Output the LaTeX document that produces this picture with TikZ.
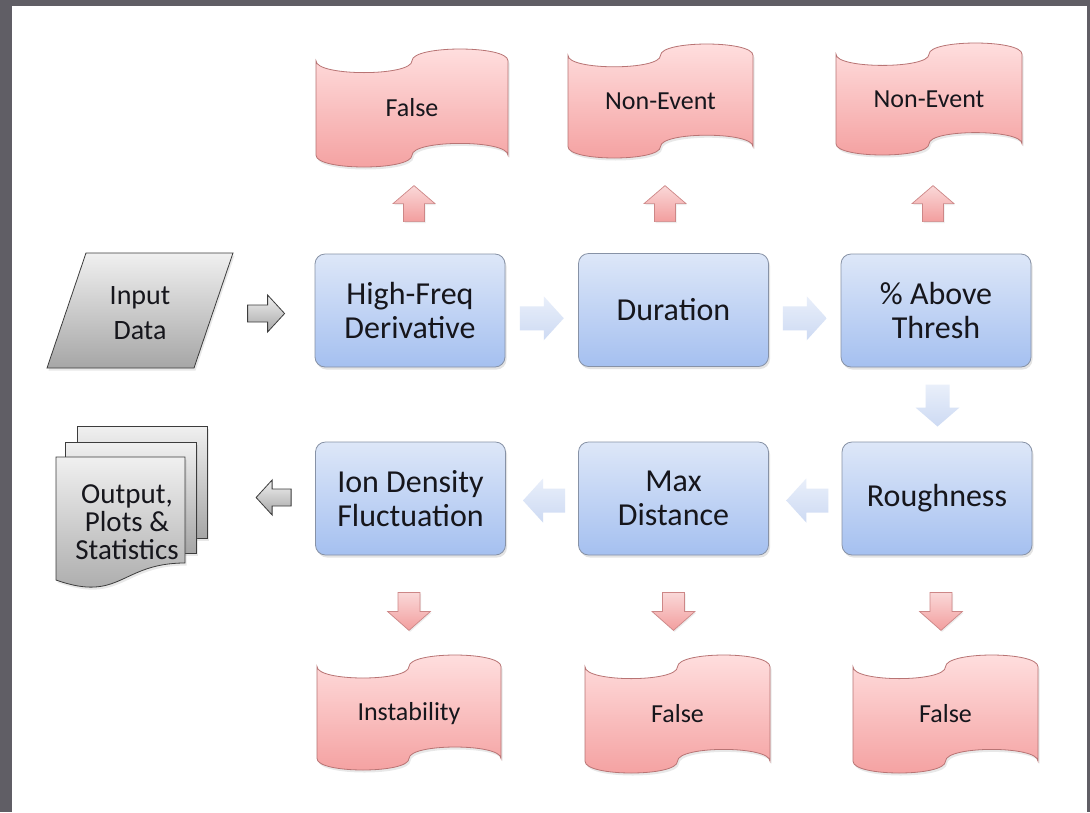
\documentclass[tikz,border=0pt]{standalone}
\usepackage{fontspec}
\setmainfont{Carlito}
\usetikzlibrary{shadows,calc}
\definecolor{bgdark}{RGB}{96,94,101}
\definecolor{boxtop}{RGB}{221,231,248}
\definecolor{boxbot}{RGB}{165,192,240}
\definecolor{boxline}{RGB}{135,146,166}
\definecolor{flagtop}{RGB}{255,224,224}
\definecolor{flagbot}{RGB}{244,160,160}
\definecolor{flagline}{RGB}{184,116,116}
\definecolor{partop}{RGB}{250,216,216}
\definecolor{parbot}{RGB}{242,158,158}
\definecolor{parline}{RGB}{205,135,135}
\definecolor{bartop}{RGB}{233,239,250}
\definecolor{barbot}{RGB}{205,218,243}
\definecolor{gtop}{RGB}{240,240,240}
\definecolor{gbot}{RGB}{166,166,166}
\definecolor{gline}{RGB}{60,60,60}
\definecolor{txt}{RGB}{22,22,28}
\newcommand\harrow[7]{%
\begin{scope}[shift={(#2)}]
\path[#1] ({-(#7)*#3/2},{-#5/2}) -- ({(#7)*(#3/2-#6)},{-#5/2}) -- ({(#7)*(#3/2-#6)},{-#4/2}) -- ({(#7)*#3/2},0) -- ({(#7)*(#3/2-#6)},{#4/2}) -- ({(#7)*(#3/2-#6)},{#5/2}) -- ({-(#7)*#3/2},{#5/2}) -- cycle;
\end{scope}}
\newcommand\varrow[7]{%
\begin{scope}[shift={(#2)}]
\path[#1] ({-#5/2},{-(#7)*#3/2}) -- ({-#5/2},{(#7)*(#3/2-#6)}) -- ({-#4/2},{(#7)*(#3/2-#6)}) -- (0,{(#7)*#3/2}) -- ({#4/2},{(#7)*(#3/2-#6)}) -- ({#5/2},{(#7)*(#3/2-#6)}) -- ({#5/2},{-(#7)*#3/2}) -- cycle;
\end{scope}}
\newcommand\tapeflag[6]{%
\path[flag] (#2,{#3+0.1*#5}) .. controls (#2,{#3+0.2333*#5}) and ({#2+#4/2},{#3+0.2333*#5}) .. ({#2+#4/2},{#3+0.1*#5}) .. controls ({#2+#4/2},{#3-0.0333*#5}) and ({#2+#4},{#3-0.0333*#5}) .. ({#2+#4},{#3+0.1*#5}) -- ({#2+#4},{#3+0.9*#5}) .. controls ({#2+#4},{#3+0.7667*#5}) and ({#2+#4/2},{#3+0.7667*#5}) .. ({#2+#4/2},{#3+0.9*#5}) .. controls ({#2+#4/2},{#3+1.0333*#5}) and (#2,{#3+1.0333*#5}) .. (#2,{#3+0.9*#5}) -- cycle;
\node[flagtext] (#1) at ({#2+#4/2},{#3+0.5*#5+8.3}) {#6};}
\begin{document}
\begin{tikzpicture}[x=1pt,y=-1pt,
  proc/.style={draw=boxline, line width=0.8pt, rounded corners=10pt, top color=boxtop, bottom color=boxbot,
    minimum width=190pt, minimum height=113pt, align=center, font=\fontsize{32}{34}\selectfont, text=txt,
    inner sep=0pt, drop shadow={opacity=0.22, shadow xshift=1.5pt, shadow yshift=-2.5pt}},
  flag/.style={draw=flagline, line width=0.8pt, top color=flagtop, bottom color=flagbot,
    drop shadow={opacity=0.18, shadow xshift=1.5pt, shadow yshift=-2.5pt}},
  flagtext/.style={anchor=base, inner sep=0pt, font=\fontsize{26}{30}\selectfont, text=txt},
  parrow/.style={draw=parline, line width=0.7pt, top color=partop, bottom color=parbot,
    drop shadow={opacity=0.15, shadow xshift=1pt, shadow yshift=-1.5pt}},
  barrow/.style={top color=bartop, bottom color=barbot},
  garrow/.style={draw=gline, line width=0.8pt, top color=gtop, bottom color=gbot},
  gshape/.style={draw=gline, line width=0.8pt, top color=gtop, bottom color=gbot,
    drop shadow={opacity=0.18, shadow xshift=1.5pt, shadow yshift=-2.5pt}},
  label/.style={align=center, inner sep=0pt, text=txt}]
\useasboundingbox (0,0) rectangle (1090,812);
\fill[bgdark] (0,0) rectangle (1090,812);
\fill[white] (12,6) rectangle (1087,812);
% process boxes
\node[proc] (hf) at (410,310.5) {High-Freq\\Derivative};
\node[proc] (dur) at (673.5,310) {Duration};
\node[proc] (pct) at (936,310.5) {\% Above\\Thresh};
\node[proc] (rough) at (937,498.5) {Roughness};
\node[proc] (maxd) at (673.5,498.5) {Max\\Distance};
\node[proc] (ion) at (410.5,498.5) {Ion Density\\Fluctuation};
% input parallelogram
\path[gshape] (86,253) -- (233,253) -- (194,368) -- (47,368) -- cycle;
\node[label, font=\fontsize{28}{35}\selectfont] (inp) at (140,313.5) {Input\\Data};
% output multi-document
\path[gshape] (77,426) rectangle (207,538);
\path[gshape] (65,442) rectangle (196,553);
\path[gshape] (56,457) -- (185,457) -- (185,563) .. controls (120.5,563) and (120.5,603) .. (56,580) -- cycle;
\node[label, font=\fontsize{29}{28}\selectfont] (out) at (127,522.5) {Output,\\Plots \&\\Statistics};
% flags
\tapeflag{f1}{316}{49}{192}{118}{False}
\tapeflag{f2}{568}{44}{185}{114}{Non-Event}
\tapeflag{f3}{836}{43}{186}{112}{Non-Event}
\tapeflag{f4}{317}{655}{184}{115}{Instability}
\tapeflag{f5}{585}{655}{185}{118}{False}
\tapeflag{f6}{853}{655}{185}{118}{False}
% arrow positions
\coordinate (a1) at ($(hf.east)!0.5!(dur.west)+(0,8)$);
\coordinate (a2) at ($(dur.east)!0.5!(pct.west)+(0,8)$);
\coordinate (a3) at ($(pct.south)!0.5!(rough.north)+(1,1)$);
\coordinate (a4) at ($(rough.west)!0.5!(maxd.east)+(2,2)$);
\coordinate (a5) at ($(maxd.west)!0.5!(ion.east)+(2,2)$);
\coordinate (g1) at ($(hf.west)+(-48.5,3)$);
\coordinate (g2) at ($(ion.west)+(-41.5,-1)$);
\coordinate (u1) at ($(hf.north)+(4,-50)$);
\coordinate (u2) at ($(dur.north)+(-8.5,-49.5)$);
\coordinate (u3) at ($(pct.north)+(-3,-50)$);
\coordinate (d1) at ($(ion.south)+(-1.5,56)$);
\coordinate (d2) at ($(maxd.south)+(0,56)$);
\coordinate (d3) at ($(rough.south)+(4,56)$);
% blue flow arrows
\harrow{barrow}{a1}{44}{44}{24}{20}{1}
\harrow{barrow}{a2}{44}{44}{24}{20}{1}
\varrow{barrow}{a3}{42}{44}{24}{19}{1}
\harrow{barrow}{a4}{42}{44}{24}{20}{-1}
\harrow{barrow}{a5}{42}{44}{24}{20}{-1}
% gray arrows
\harrow{garrow}{g1}{37}{37}{17}{17}{1}
\harrow{garrow}{g2}{35}{35}{17}{16}{-1}
% pink arrows
\varrow{parrow}{u1}{36}{42}{21}{18}{-1}
\varrow{parrow}{u2}{36}{42}{21}{18}{-1}
\varrow{parrow}{u3}{36}{42}{21}{18}{-1}
\varrow{parrow}{d1}{38}{43}{22}{19}{1}
\varrow{parrow}{d2}{38}{43}{22}{19}{1}
\varrow{parrow}{d3}{38}{43}{22}{19}{1}
\end{tikzpicture}
\end{document}
